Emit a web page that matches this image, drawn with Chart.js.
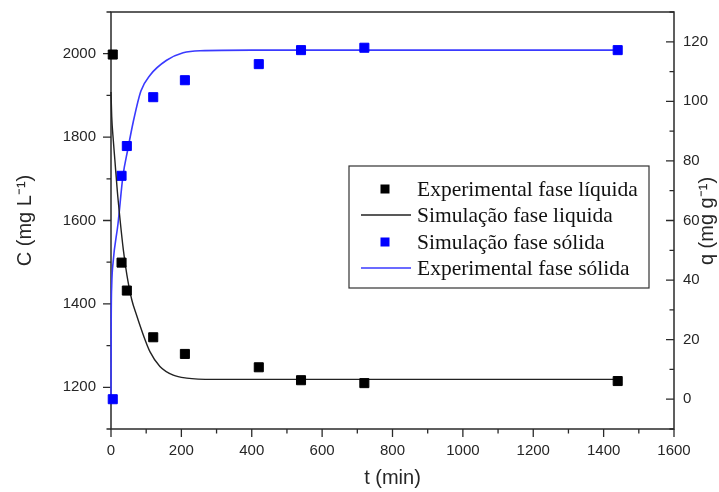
<!DOCTYPE html>
<html>
<head>
<meta charset="utf-8">
<script src="https://cdn.jsdelivr.net/npm/chart.js@4.4.1/dist/chart.umd.min.js"></script>
<style>
  html, body { margin: 0; padding: 0; background: #fff; }
  #wrap { width: 719px; height: 492px; }
</style>
</head>
<body>
<div id="wrap"><canvas id="grafico"></canvas></div>
<script>
// Pontos experimentais
const tExp = [5, 30, 45, 120, 210, 420, 540, 720, 1440];
const cLiqExp = [1998, 1499, 1432, 1320, 1280, 1248, 1217, 1210, 1215];
const qSolExp = [0, 75, 85, 101.4, 107.1, 112.5, 117.2, 118, 117.2];

// Curva fase liquida (eixo esquerdo)
const tLiqSim = [0, 2, 6.5, 11, 18, 26, 35, 45, 59, 73, 92, 111, 139, 177, 215, 291, 1440];
const cLiqSim = [1908, 1850, 1793, 1745, 1670, 1600, 1530, 1470, 1410, 1372, 1325, 1285, 1250, 1229, 1222, 1219, 1219];

// Curva fase sólida (eixo direito)
const tSolSim = [0, 0.5, 2, 6, 20, 34, 48, 63, 85, 111, 158, 205, 253, 400, 1440];
const qSolSim = [0, 25, 38, 46, 59, 75, 84, 93, 103.5, 108.8, 113.8, 116.3, 117, 117.2, 117.2];

// Rótulos dos eixos
const xTicks = [0, 200, 400, 600, 800, 1000, 1200, 1400, 1600];
const cTicks = [1200, 1400, 1600, 1800, 2000];
const qTicks = [0, 20, 40, 60, 80, 100, 120];

const legendas = ['Experimental fase líquida', 'Simulação fase liquida', 'Simulação fase sólida', 'Experimental fase sólida'];

const pares = (xs, ys) => xs.map((x, i) => ({ x: x, y: ys[i] }));
const corEixo = '#2a2a2a';
const corTexto = '#262626';
const fonteEixo = '"Liberation Sans", Arial, sans-serif';

// moldura + ticks (maiores e menores)
const molduraPlugin = {
    id: 'moldura',
    beforeDatasetsDraw(chart) {
        const { ctx, chartArea: a, scales } = chart;
        ctx.save();
        ctx.strokeStyle = corEixo;
        ctx.lineWidth = 1.5;
        ctx.strokeRect(a.left, a.top, a.right - a.left, a.bottom - a.top);
        ctx.lineWidth = 1.3;
        ctx.beginPath();
        // eixo x, ticks para fora
        for (let v = 0; v <= 1600; v += 100) {
            const px = scales.x.getPixelForValue(v);
            const len = v % 200 === 0 ? 8 : 4.5;
            ctx.moveTo(px, a.bottom);
            ctx.lineTo(px, a.bottom + len);
        }
        // eixo esquerdo, ticks para fora
        for (let v = 1100; v <= 2100; v += 100) {
            const py = scales.y.getPixelForValue(v);
            const len = v % 200 === 0 ? 8 : 4.5;
            ctx.moveTo(a.left, py);
            ctx.lineTo(a.left - len, py);
        }
        // eixo direito, ticks para dentro
        for (let v = -10; v <= 130; v += 10) {
            const py = scales.y1.getPixelForValue(v);
            const len = v % 20 === 0 ? 8 : 4.5;
            ctx.moveTo(a.right, py);
            ctx.lineTo(a.right - len, py);
        }
        ctx.stroke();
        ctx.restore();
    },
    afterDraw(chart) {
        const { ctx } = chart;
        // título do eixo direito
        ctx.save();
        ctx.fillStyle = corTexto;
        ctx.font = '20px ' + fonteEixo;
        ctx.textAlign = 'center';
        ctx.textBaseline = 'middle';
        ctx.translate(707, 221);
        ctx.rotate(-Math.PI / 2);
        ctx.fillText('q (mg g⁻¹)', 0, 0);
        ctx.restore();

        // legenda
        const bx = 349, by = 166, bw = 300, bh = 122;
        ctx.save();
        ctx.fillStyle = '#fff';
        ctx.fillRect(bx, by, bw, bh);
        ctx.strokeStyle = '#333';
        ctx.lineWidth = 1.2;
        ctx.strokeRect(bx, by, bw, bh);
        ctx.font = '21.5px "Liberation Serif", "Times New Roman", serif';
        ctx.textBaseline = 'middle';
        const linhasY = [189, 215, 242, 268];
        chart.data.datasets.forEach((ds, i) => {
            const y = linhasY[i];
            if (ds.showLine) {
                ctx.strokeStyle = ds.borderColor;
                ctx.lineWidth = ds.borderWidth;
                ctx.beginPath();
                ctx.moveTo(361, y);
                ctx.lineTo(411, y);
                ctx.stroke();
            } else {
                ctx.fillStyle = ds.backgroundColor;
                ctx.fillRect(380.5, y - 4.5, 9, 9);
            }
            ctx.fillStyle = '#111';
            ctx.fillText(ds.label, 417, y + 1);
        });
        ctx.restore();
    }
};

const semSeparador = (v) => String(v);
const semPadding = (s) => { s.paddingTop = 0; s.paddingBottom = 0; s.paddingLeft = 0; s.paddingRight = 0; };

const grafico = new Chart(document.getElementById('grafico'), {
    type: 'scatter',
    data: {
        datasets: [{
            label: legendas[0],
            data: pares(tExp, cLiqExp),
            yAxisID: 'y',
            pointStyle: 'rect',
            pointRadius: 6.4,
            borderWidth: 1,
            backgroundColor: '#000',
            borderColor: '#000',
            clip: false
        }, {
            label: legendas[1],
            data: pares(tLiqSim, cLiqSim),
            yAxisID: 'y',
            showLine: true,
            pointRadius: 0,
            borderWidth: 1.4,
            borderColor: '#222',
            backgroundColor: '#222',
            cubicInterpolationMode: 'monotone',
            clip: false
        }, {
            label: legendas[2],
            data: pares(tExp, qSolExp),
            yAxisID: 'y1',
            pointStyle: 'rect',
            pointRadius: 6.4,
            borderWidth: 1,
            backgroundColor: '#0000ff',
            borderColor: '#0000ff',
            clip: false
        }, {
            label: legendas[3],
            data: pares(tSolSim, qSolSim),
            yAxisID: 'y1',
            showLine: true,
            pointRadius: 0,
            borderWidth: 1.6,
            borderColor: '#3a3aff',
            backgroundColor: '#3a3aff',
            cubicInterpolationMode: 'monotone',
            clip: false
        }]
    },
    options: {
        responsive: true,
        maintainAspectRatio: false,
        animation: false,
        layout: { padding: { top: 12, left: 0, right: 0, bottom: 0 } },
        plugins: {
            legend: { display: false },
            tooltip: { enabled: false }
        },
        scales: {
            x: {
                type: 'linear',
                min: 0,
                max: 1600,
                grid: { display: false, drawTicks: false, tickLength: 0 },
                border: { display: false },
                afterBuildTicks: (s) => { s.ticks = xTicks.map(v => ({ value: v })); },
                afterFit: (s) => { s.height = 63; semPadding(s); },
                ticks: {
                    padding: 13,
                    color: corTexto,
                    maxRotation: 0,
                    callback: semSeparador,
                    font: { family: fonteEixo, size: 15 }
                },
                title: {
                    display: true,
                    text: 't (min)',
                    color: corTexto,
                    padding: { top: 0, bottom: 2 },
                    font: { family: fonteEixo, size: 20 }
                }
            },
            y: {
                type: 'linear',
                position: 'left',
                min: 1100,
                max: 2100,
                grid: { display: false, drawTicks: false, tickLength: 0 },
                border: { display: false },
                afterBuildTicks: (s) => { s.ticks = cTicks.map(v => ({ value: v })); },
                afterFit: (s) => { s.width = 111; semPadding(s); },
                ticks: {
                    padding: 15,
                    color: corTexto,
                    callback: semSeparador,
                    font: { family: fonteEixo, size: 15 }
                },
                title: {
                    display: true,
                    text: 'C (mg L⁻¹)',
                    color: corTexto,
                    padding: { top: 13, bottom: 0 },
                    font: { family: fonteEixo, size: 20 }
                }
            },
            y1: {
                type: 'linear',
                position: 'right',
                min: -10,
                max: 130,
                grid: { display: false, drawTicks: false, tickLength: 0 },
                border: { display: false },
                afterBuildTicks: (s) => { s.ticks = qTicks.map(v => ({ value: v })); },
                afterFit: (s) => { s.width = 45; semPadding(s); },
                ticks: {
                    padding: 9,
                    color: corTexto,
                    callback: semSeparador,
                    font: { family: fonteEixo, size: 15 }
                }
            }
        }
    },
    plugins: [molduraPlugin]
});
</script>
</body>
</html>
